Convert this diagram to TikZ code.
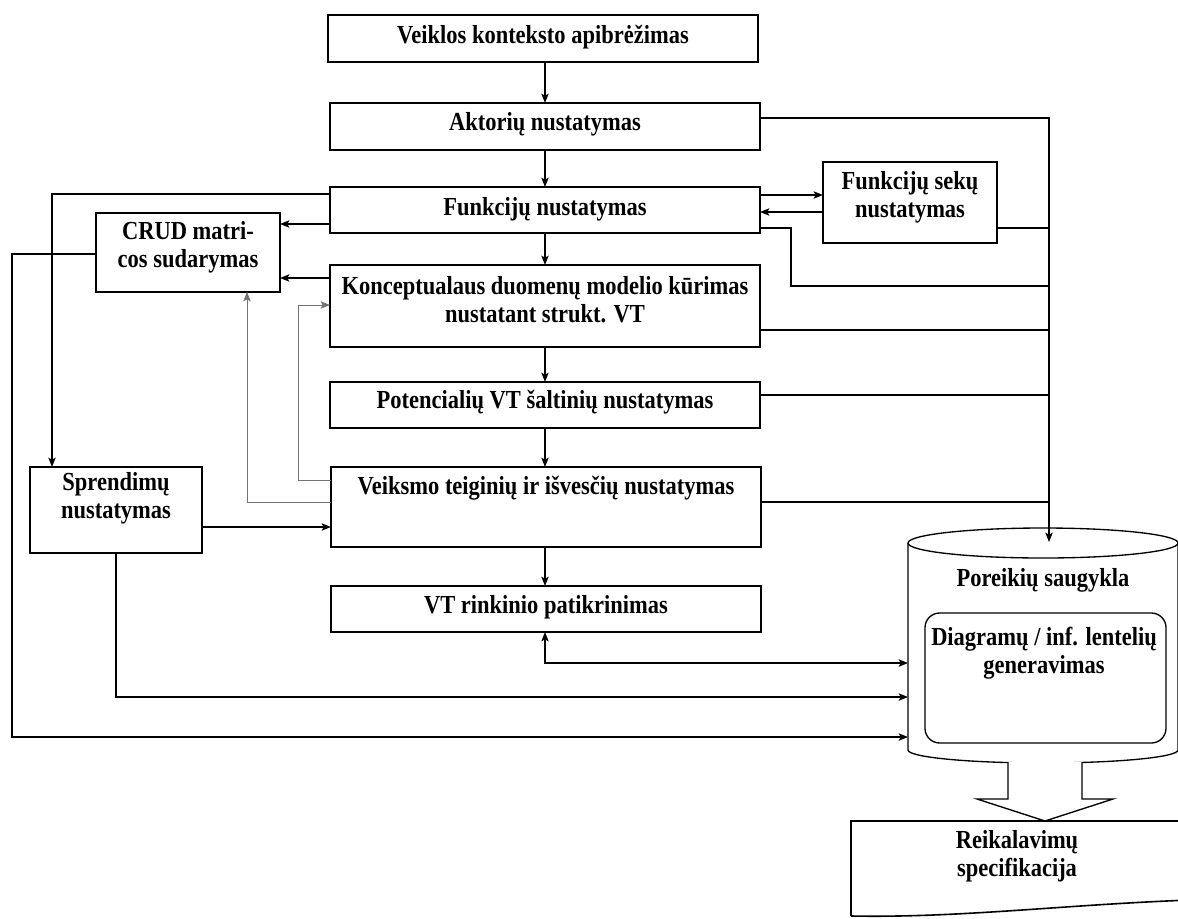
\documentclass[tikz,border=0pt]{standalone}
\usepackage{fontspec}
\setmainfont{Liberation Serif}[FakeStretch=0.865]
\usetikzlibrary{arrows.meta}
\begin{document}
\begin{tikzpicture}[x=0.75pt,y=-0.75pt,
  font=\bfseries\fontsize{19.5pt}{21.3pt}\selectfont,
  box/.style={draw,line width=1.2pt,inner sep=0pt,outer sep=0pt,minimum width=322.5pt},
  lbl/.style={align=center,inner sep=0pt},
  tip/.tip={Stealth[length=7pt,width=5.5pt,inset=1.5pt]},
  conn/.style={line width=1pt,-tip},
  wire/.style={line width=1pt},
  faint/.style={line width=0.6pt,draw=black!55,-tip},
]
\useasboundingbox (0,0) rectangle (1178,918);
\clip (0,0) rectangle (1178,918);

% main column of steps
\node[box,minimum height=35.25pt] (ctx) at (543,38.5) {};
\node[box,minimum height=35.25pt] (akt) at (545,126.5) {};
\node[box,minimum height=34.5pt] (fun) at (545,210) {};
\node[box,minimum height=61.5pt] (kon) at (545,306) {};
\node[box,minimum height=34.5pt] (pot) at (545,405) {};
\node[box,minimum height=60pt] (vks) at (546,507) {};
\node[box,minimum height=34.5pt] (vtr) at (546,609) {};

% side steps
\node[box,minimum width=130.5pt,minimum height=60.75pt] (seq) at (910,202.5) {};
\node[box,minimum width=138pt,minimum height=59.25pt] (crud) at (188,252.5) {};
\node[box,minimum width=129pt,minimum height=64.5pt] (spr) at (116,510) {};

% labels
\node[lbl] (tctx) at (543,37.5) {Veiklos konteksto apibrėžimas};
\node[lbl] (takt) at (545,124.5) {Aktorių nustatymas};
\node[lbl] (tfun) at (545,209.5) {Funkcijų nustatymas};
\node[lbl] (tkon) at (545,299.5) {Konceptualaus duomenų modelio kūrimas\\nustatant strukt. VT};
\node[lbl] (tpot) at (545,402.5) {Potencialių VT šaltinių nustatymas};
\node[lbl] (tvks) at (546,488.5) {Veiksmo teiginių ir išvesčių nustatymas};
\node[lbl] (tvtr) at (546,607.5) {VT rinkinio patikrinimas};
\node[lbl] (tseq) at (910,197) {Funkcijų sekų\\nustatymas};
\node[lbl] (tcrud) at (188,247) {CRUD matri-\\cos sudarymas};
\node[lbl] (tspr) at (116,498.5) {Sprendimų\\nustatymas};

% requirements store (cylinder)
\node[minimum width=202.5pt,minimum height=176.25pt,inner sep=0pt,outer sep=0pt] (db) at (1043,645.5) {};
\draw[line width=1pt] (1043,543) ellipse [x radius=135,y radius=15];
\draw[line width=1pt] (908,543) -- (908,750)
  arc[start angle=180,end angle=0,x radius=135,y radius=13] -- (1178,543);
\node[lbl] (tdb) at (1043,580) {Poreikių saugykla};
\node[draw,line width=1pt,rounded corners=11pt,minimum width=180.75pt,minimum height=97.5pt,inner sep=0pt] (gen) at (1045.5,678) {};
\node[lbl] (tgen) at (1044,653) {Diagramų / inf. lentelių\\generavimas};

% block arrow to the specification document
\draw[line width=1pt,fill=white] (1008,762) -- (1008,799) -- (977,799) -- (1045,821)
  -- (1113,799) -- (1082,799) -- (1082,762);
\draw[line width=1.2pt] (851,916) -- (851,821) -- (1190,821) -- (1190,900)
  .. controls (1060,905) and (960,918) .. (851,916);
\node[lbl] (tspec) at (1017,856) {Reikalavimų\\specifikacija};

% main flow
\draw[conn] (akt.north |- ctx.south) -- (akt.north);
\draw[conn] (akt.south) -- (fun.north);
\draw[conn] (fun.south) -- (kon.north);
\draw[conn] (kon.south) -- (pot.north);
\draw[conn] (pot.south) -- (pot.south |- vks.north);
\draw[conn] (pot.south |- vks.south) -- (pot.south |- vtr.north);

% collector rail into the store
\coordinate (rail) at (1049,0);
\coordinate (dbin) at (1049,542);
\draw[conn] (akt.east |- 0,118) -- (rail |- 0,118) -- (dbin);
\draw[conn] (fun.east |- 0,195) -- (seq.west |- 0,195);
\draw[conn] (seq.west |- 0,212) -- (fun.east |- 0,212);
\draw[wire] (fun.east |- 0,228) -- ++(31,0) |- (rail |- 0,286);
\draw[wire] (seq.east |- 0,228) -- (rail |- 0,228);
\draw[wire] (kon.east |- 0,330) -- (rail |- 0,330);
\draw[wire] (pot.east |- 0,395) -- (rail |- 0,395);
\draw[wire] (vks.east |- 0,502) -- (rail |- 0,502);

% left side links
\draw[conn] (fun.west |- 0,194) -| (spr.north -| 52,0);
\draw[conn] (fun.west |- 0,224) -- (crud.east |- 0,224);
\draw[conn] (kon.west |- 0,278) -- (crud.east |- 0,278);
\draw[conn] (crud.west |- 0,254) -- (12,254) |- (db.west |- 0,737);
\draw[conn] (spr.east |- 0,527) -- (vks.west |- 0,527);
\draw[conn] (spr.south) |- (db.west |- 0,697);
\draw[line width=1pt,tip-tip] (vtr.south -| 545,0) |- (db.west |- 0,663);
\draw[faint] (vks.west |- 0,480) -- (298,480) |- (kon.west |- 0,305);
\draw[faint] (vks.west |- 0,502) -| (crud.south -| 247,0);
\end{tikzpicture}
\end{document}
